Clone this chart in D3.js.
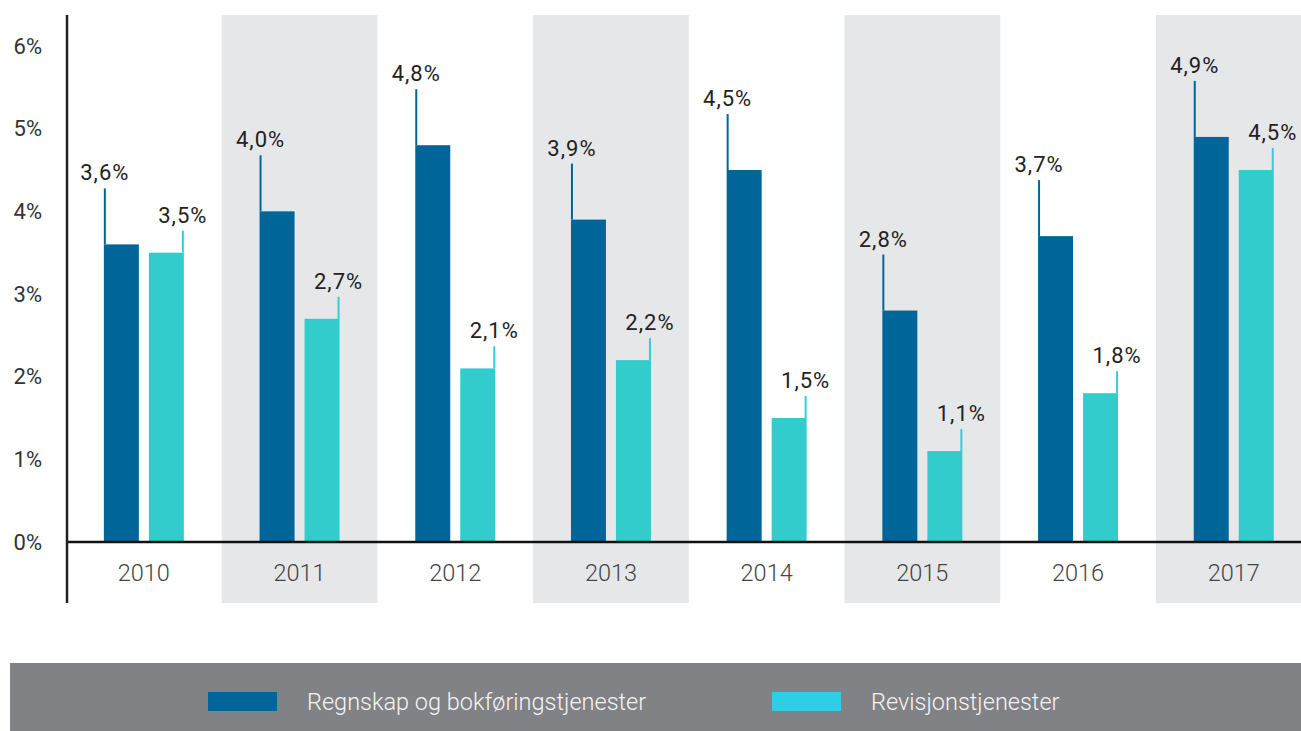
<!DOCTYPE html>
<html>
<head>
<meta charset="utf-8">
<script src="https://cdn.jsdelivr.net/npm/d3@7"></script>
<style>
  body { margin: 0; background: #fff; }
  svg { display: block; font-family: Roboto, sans-serif; }
</style>
</head>
<body>
<div id="chart"></div>
<script>
let width = 1301
let height = 731

let years = ['2010', '2011', '2012', '2013', '2014', '2015', '2016', '2017']
let regnskap = [3.6, 4.0, 4.8, 3.9, 4.5, 2.8, 3.7, 4.9]
let revisjon = [3.5, 2.7, 2.1, 2.2, 1.5, 1.1, 1.8, 4.5]
let yTicks = [0, 1, 2, 3, 4, 5, 6]
let seriesNames = ['Regnskap og bokføringstjenester', 'Revisjonstjenester']

let darkBlue = '#006699'
let teal = '#33cccc'
let cyan = '#33ccdd'

let x = d3.scaleBand()
    .domain(years)
    .range([66, 66 + 155.7 * years.length])

let y = d3.scaleLinear()
    .domain([0, 6])
    .range([542, 46])

let fmt = v => d3.format('.1f')(v).replace('.', ',') + '%'

const svg = d3.create('svg')
    .attr('width', width)
    .attr('height', height)

// shaded stripes behind every second year
svg.append('g')
    .selectAll('rect')
    .data(years.filter((d, i) => i % 2 === 1))
    .join('rect')
    .attr('x', d => x(d))
    .attr('y', 15)
    .attr('width', x.bandwidth())
    .attr('height', 588)
    .attr('fill', '#e6e7e9')

// y tick labels
svg.append('g')
    .selectAll('text')
    .data(yTicks)
    .join('text')
    .attr('x', 42)
    .attr('y', d => y(d))
    .attr('dy', '0.35em')
    .attr('text-anchor', 'end')
    .attr('font-size', 22)
    .attr('fill', '#333')
    .text(d => d + '%')

let bw = 35

// dark bars
const g1 = svg.append('g')
g1.selectAll('rect')
    .data(regnskap)
    .join('rect')
    .attr('x', (d, i) => x(years[i]) + x.bandwidth() / 2 - 5 - bw)
    .attr('y', d => y(d))
    .attr('width', bw)
    .attr('height', d => y(0) - y(d))
    .attr('fill', darkBlue)
g1.selectAll('line')
    .data(regnskap)
    .join('line')
    .attr('x1', (d, i) => x(years[i]) + x.bandwidth() / 2 - 4 - bw)
    .attr('x2', (d, i) => x(years[i]) + x.bandwidth() / 2 - 4 - bw)
    .attr('y1', d => y(d))
    .attr('y2', d => y(d) - 56)
    .attr('stroke', darkBlue)
    .attr('stroke-width', 2)
g1.selectAll('text')
    .data(regnskap)
    .join('text')
    .attr('x', (d, i) => x(years[i]) + x.bandwidth() / 2 - 4 - bw)
    .attr('y', d => y(d) - 64)
    .attr('text-anchor', 'middle')
    .attr('font-size', 22)
    .attr('letter-spacing', 1)
    .attr('fill', '#222')
    .text(fmt)

// light bars
const g2 = svg.append('g')
g2.selectAll('rect')
    .data(revisjon)
    .join('rect')
    .attr('x', (d, i) => x(years[i]) + x.bandwidth() / 2 + 5)
    .attr('y', d => y(d))
    .attr('width', bw)
    .attr('height', d => y(0) - y(d))
    .attr('fill', teal)
g2.selectAll('line')
    .data(revisjon)
    .join('line')
    .attr('x1', (d, i) => x(years[i]) + x.bandwidth() / 2 + 4 + bw)
    .attr('x2', (d, i) => x(years[i]) + x.bandwidth() / 2 + 4 + bw)
    .attr('y1', d => y(d))
    .attr('y2', d => y(d) - 22)
    .attr('stroke', cyan)
    .attr('stroke-width', 2)
g2.selectAll('text')
    .data(revisjon)
    .join('text')
    .attr('x', (d, i) => x(years[i]) + x.bandwidth() / 2 + 4 + bw)
    .attr('y', d => y(d) - 30)
    .attr('text-anchor', 'middle')
    .attr('font-size', 22)
    .attr('letter-spacing', 1)
    .attr('fill', '#222')
    .text(fmt)

// axes lines
svg.append('line')
    .attr('x1', 66).attr('x2', width)
    .attr('y1', y(0)).attr('y2', y(0))
    .attr('stroke', '#111').attr('stroke-width', 2.5)
svg.append('line')
    .attr('x1', 67).attr('x2', 67)
    .attr('y1', 15).attr('y2', 603)
    .attr('stroke', '#222').attr('stroke-width', 2.5)

// year labels
svg.append('g')
    .selectAll('text')
    .data(years)
    .join('text')
    .attr('x', d => x(d) + x.bandwidth() / 2)
    .attr('y', 581)
    .attr('text-anchor', 'middle')
    .attr('font-size', 23.5)
    .attr('font-weight', 300)
    .attr('fill', '#444')
    .text(d => d)

// legend
svg.append('rect')
    .attr('x', 10).attr('y', 663)
    .attr('width', width - 10).attr('height', 68)
    .attr('fill', '#818286')

let legendX = [208, 772]
let legendColors = [darkBlue, '#2ecfe4']
const leg = svg.append('g')
    .selectAll('g')
    .data(seriesNames)
    .join('g')
    .attr('transform', (d, i) => `translate(${legendX[i]},692)`)
leg.append('rect')
    .attr('width', 69).attr('height', 19)
    .attr('fill', (d, i) => legendColors[i])
leg.append('text')
    .attr('x', 99)
    .attr('y', 10)
    .attr('dy', '0.35em')
    .attr('font-size', 23.5)
    .attr('font-weight', 300)
    .attr('fill', '#f4f4f4')
    .text(d => d)

d3.select('#chart').node().append(svg.node())
</script>
</body>
</html>
